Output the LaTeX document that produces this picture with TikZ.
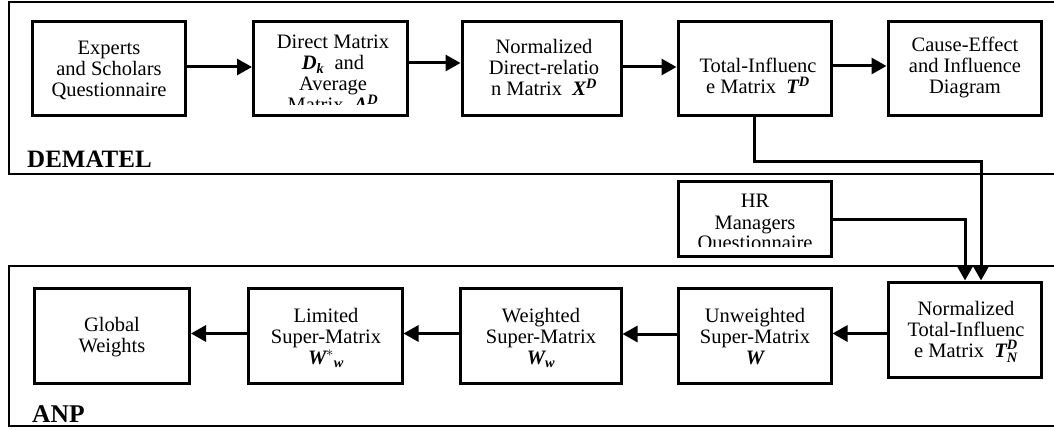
\documentclass[tikz,border=0pt]{standalone}
\usepackage{amsmath}
\usepackage{fontspec}
\setmainfont{Liberation Serif}
\usetikzlibrary{arrows.meta,calc}
\newcommand\bi[1]{\text{\bfseries\itshape #1}}
\newcommand\lines[1]{\begin{tabular}[t]{@{}c@{}}#1\end{tabular}}
\begin{document}
\begin{tikzpicture}[x=1pt,y=-1pt,
  box/.style={draw,line width=3pt,inner sep=0pt},
  txt/.style={anchor=base,inner sep=0pt,font=\fontsize{20.5}{21}\selectfont},
  frame/.style={line width=2.7pt},
  arr/.style={line width=3pt,-{Triangle[length=15pt,width=16pt]}},
  title/.style={anchor=base west,inner sep=0pt,font=\fontsize{25}{27}\selectfont\bfseries}]
\useasboundingbox (0,0) rectangle (1054,430);
\clip (0,0) rectangle (1054,430);
% frames
\draw[frame] (9,2) rectangle (1070,174);
\draw[frame] (9,266) rectangle (1070,426);
\node[title] (dem) at (27,168) {DEMATEL};
\node[title,font=\fontsize{25.5}{27}\selectfont\bfseries] (anp) at (32,422) {ANP};
% top row boxes
\node[box,minimum width=153pt,minimum height=94pt] (b1) at (109,69) {};
\node[box,minimum width=154pt,minimum height=94pt] (b2) at (330.5,69) {};
\node[box,minimum width=159pt,minimum height=94pt] (b3) at (541.5,69) {};
\node[box,minimum width=153pt,minimum height=94pt] (b4) at (754.5,69) {};
\node[box,minimum width=153pt,minimum height=94pt] (b5) at (964.5,69) {};
\node[box,minimum width=153pt,minimum height=75pt] (hr) at (754.5,219.5) {};
% bottom row boxes
\node[box,minimum width=155pt,minimum height=95pt] (g) at (112,335.5) {};
\node[box,minimum width=154pt,minimum height=95pt] (lim) at (325,335.5) {};
\node[box,minimum width=161pt,minimum height=95pt] (wt) at (540.5,335.5) {};
\node[box,minimum width=153pt,minimum height=95pt] (unw) at (754.5,335.5) {};
\node[box,minimum width=153pt,minimum height=95pt] (norm) at (964.5,329.5) {};
% texts
\node[txt] (t1) at (109,55) {\lines{Experts\\and Scholars\\Questionnaire}};
\begin{scope}
\clip (252,21) rectangle (409,105);
\node[txt] (t2) at (333,49) {\lines{Direct Matrix\\$\smash{\bi{D}_{\bi{k}}}$~~and\\Average\\Matrix~~$\smash{\bi{A}^{\bi{D}}}$}};
\end{scope}
\node[txt] (t3) at (544,54) {\lines{Normalized\\Direct-relatio\\n Matrix~~$\smash{\bi{X}^{\bi{D}}}$}};
\node[txt] (t4) at (758,73) {\lines{Total-Influenc\\e Matrix~~$\smash{\bi{T}^{\bi{D}}}$}};
\node[txt] (t5) at (965,52) {\lines{Cause-Effect\\and Influence\\Diagram}};
\begin{scope}
\clip (677,181) rectangle (832,247);
\node[txt] (t6) at (755,208) {\lines{HR\\Managers\\Questionnaire}};
\end{scope}
\node[txt] (t7) at (112,331) {\lines{Global\\Weights}};
\node[txt] (t8) at (326,322) {\lines{Limited\\Super-Matrix\\$\smash{\bi{W}^{*}{}_{\bi{w}}}$}};
\node[txt] (t9) at (541,322) {\lines{Weighted\\Super-Matrix\\$\smash{\bi{W}_{\bi{w}}}$}};
\node[txt] (t10) at (755,322) {\lines{Unweighted\\Super-Matrix\\$\smash{\bi{W}}$}};
\node[txt] (t11) at (966,315) {\lines{Normalized\\Total-Influenc\\e Matrix~~$\smash{\bi{T}^{\bi{D}}_{\bi{N}}}$}};
% top arrows
\draw[arr] ([yshift=2pt]b1.east) -- ([yshift=2pt]b2.west);
\draw[arr] ([yshift=6pt]b2.east) -- ([yshift=6pt]b3.west);
\draw[arr] ([yshift=2pt]b3.east) -- ([yshift=2pt]b4.west);
\draw[arr] ([yshift=3pt]b4.east) -- ([yshift=3pt]b5.west);
% connectors into ANP
\coordinate (k1) at (981,162);
\coordinate (k2) at (965,0);
\draw[arr] (b4.south) |- (k1) -- (k1 |- norm.north);
\draw[arr] (hr.east) -| (k2 |- norm.north);
% bottom arrows
\draw[arr] ([yshift=2pt]norm.west |- unw.east) -- ([yshift=2pt]unw.east);
\draw[arr] ([yshift=1.5pt]unw.west) -- ([yshift=1.5pt]wt.east);
\draw[arr] ([yshift=2pt]wt.west) -- ([yshift=2pt]lim.east);
\draw[arr] ([yshift=2pt]lim.west) -- ([yshift=2pt]g.east);
\end{tikzpicture}
\end{document}
